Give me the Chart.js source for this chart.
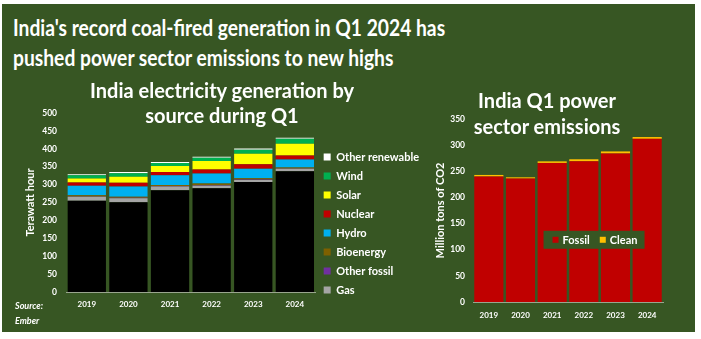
<!DOCTYPE html>
<html>
<head>
<meta charset="utf-8">
<script src="https://cdn.jsdelivr.net/npm/chart.js@4.4.1/dist/chart.umd.min.js"></script>
<style>
  html, body { margin: 0; padding: 0; background: #ffffff; }
  #page { position: relative; width: 701px; height: 339px; overflow: hidden; background: #ffffff; }
  #panel { position: absolute; left: 2px; top: 4px; width: 693px; height: 328px; background: #375623; }
  .txt { position: absolute; color: #ffffff; font-family: Lato, "Open Sans", sans-serif; font-weight: bold; white-space: nowrap; }
  #mainTitle { left: 13px; top: 13px; font-size: 22px; line-height: 30px; transform: scaleX(0.875); transform-origin: 0 0; }
  #genTitle { left: 52px; top: 78px; width: 340px; text-align: center; font-size: 20px; line-height: 25px; }
  #emTitle { left: 457px; top: 87px; width: 180px; text-align: center; font-size: 20px; line-height: 26px; }
  #source { left: 15px; top: 298px; font-size: 9px; line-height: 15px; font-style: italic; }
  #genWrap { position: absolute; left: 0; top: 80px; width: 440px; height: 245px; }
  #emWrap { position: absolute; left: 420px; top: 80px; width: 275px; height: 245px; }
</style>
</head>
<body>
<div id="page">
  <div id="panel"></div>
  <div id="genWrap"><canvas id="genChart"></canvas></div>
  <div id="emWrap"><canvas id="emChart"></canvas></div>
  <div class="txt" id="mainTitle">India's record coal-fired generation in Q1 2024 has<br>pushed power sector emissions to new highs</div>
  <div class="txt" id="genTitle">India electricity generation by<br>source during Q1</div>
  <div class="txt" id="emTitle">India Q1 power<br>sector emissions</div>
  <div class="txt" id="source">Source:<br>Ember</div>
</div>
<script>
// Q1 data
const years = ['2019', '2020', '2021', '2022', '2023', '2024'];

// generation, TWh
const coal = [255, 251, 284, 290, 307, 337];
const gas = [11, 11, 11, 7, 6, 7];
const otherFossil = [1, 1, 1, 1, 1, 1];
const bioenergy = [3, 3, 3, 5, 4, 3];
const hydro = [27, 29, 27, 28, 26, 22];
const nuclear = [9, 10, 9, 11, 13, 11];
const solar = [11, 17, 17, 24, 29, 33];
const wind = [9, 10, 8, 9, 11, 14];
const otherRenewable = [3, 3, 3, 3, 4, 3];

// emissions, million tons CO2
const fossilEmissions = [240, 236, 266, 269, 284, 312];
const cleanEmissions = [3, 2.5, 3, 4, 4, 3.5];

const genTicks = [0, 50, 100, 150, 200, 250, 300, 350, 400, 450, 500];
const emTicks = [0, 50, 100, 150, 200, 250, 300, 350];

const font = 'Lato, "Open Sans", sans-serif';
const bg = '#375623';
const axisGrey = '#9aa58f';

Chart.defaults.font.family = font;
Chart.defaults.color = '#ffffff';

function barSet(label, data, color) {
    return {
        label: label,
        data: data,
        backgroundColor: color,
        borderWidth: 0,
        barPercentage: 0.92,
        categoryPercentage: 1.0
    };
}

function fixedTicks(values) {
    return function(scale) {
        scale.ticks = values.map(v => ({ value: v }));
    };
}

// Electricity generation chart
const genCtx = document.getElementById('genChart').getContext('2d');
const genChart = new Chart(genCtx, {
    type: 'bar',
    data: {
        labels: years,
        datasets: [
            barSet('Coal', coal, '#000000'),
            barSet('Gas', gas, '#a5a5a5'),
            barSet('Other fossil', otherFossil, '#7030a0'),
            barSet('Bioenergy', bioenergy, '#7f6000'),
            barSet('Hydro', hydro, '#00b0f0'),
            barSet('Nuclear', nuclear, '#c00000'),
            barSet('Solar', solar, '#ffff00'),
            barSet('Wind', wind, '#00b050'),
            barSet('Other renewable', otherRenewable, '#ffffff')
        ]
    },
    options: {
        responsive: true,
        maintainAspectRatio: false,
        animation: false,
        layout: { padding: { left: 20, top: 33, right: 11, bottom: 0 } },
        plugins: {
            tooltip: { enabled: false },
            legend: {
                display: true,
                position: 'right',
                align: 'center',
                reverse: true,
                maxWidth: 140,
                // blank title only nudges the list down a little
                title: { display: true, text: ' ', font: { size: 1 }, padding: 4 },
                labels: {
                    filter: item => item.text !== 'Coal',
                    boxWidth: 7,
                    boxHeight: 7,
                    padding: 8,
                    color: '#ffffff',
                    font: { size: 11, weight: 'bold' }
                }
            }
        },
        scales: {
            x: {
                stacked: true,
                grid: { display: false, drawTicks: false },
                border: { display: true, color: axisGrey, width: 1 },
                ticks: { padding: 8, color: '#ffffff', font: { size: 8, weight: 'bold' } },
                afterFit: function(scale) { scale.height = 33; }
            },
            y: {
                stacked: true,
                min: 0,
                max: 500,
                grid: { display: false, drawTicks: false },
                border: { display: false },
                afterBuildTicks: fixedTicks(genTicks),
                ticks: { padding: 9, color: '#ffffff', font: { size: 8.5, weight: 'bold' } },
                title: {
                    display: true,
                    text: 'Terawatt hour',
                    color: '#ffffff',
                    font: { size: 11, weight: 'bold' }
                },
                afterFit: function(scale) { scale.width = 46; }
            }
        }
    }
});

// Plugin that draws the emissions legend inside the plot, on a green box
const boxLegend = {
    id: 'boxLegend',
    afterDatasetsDraw(chart, args, opts) {
        const a = chart.chartArea;
        const c = chart.ctx;
        const w = opts.width, h = opts.height;
        const x0 = a.left + opts.fx * a.width - w / 2;
        const y0 = a.top + opts.fy * a.height - h / 2;
        c.save();
        c.fillStyle = bg;
        c.fillRect(x0, y0, w, h);
        c.font = 'bold 11px ' + font;
        c.textBaseline = 'middle';
        let x = x0 + 9;
        chart.data.datasets.forEach(ds => {
            c.fillStyle = ds.backgroundColor;
            c.fillRect(x, y0 + h / 2 - 3, 6, 6);
            x += 10;
            c.fillStyle = '#ffffff';
            c.fillText(ds.label, x, y0 + h / 2 + 0.5);
            x += c.measureText(ds.label).width + 10;
        });
        c.restore();
    }
};

// Emissions chart
const emCtx = document.getElementById('emChart').getContext('2d');
const emChart = new Chart(emCtx, {
    type: 'bar',
    data: {
        labels: years,
        datasets: [
            barSet('Fossil', fossilEmissions, '#c00000'),
            barSet('Clean', cleanEmissions, '#ffc000')
        ]
    },
    options: {
        responsive: true,
        maintainAspectRatio: false,
        animation: false,
        layout: { padding: { left: 10, top: 39, right: 32, bottom: 0 } },
        plugins: {
            tooltip: { enabled: false },
            legend: { display: false },
            boxLegend: { fx: 0.637, fy: 0.66, width: 101, height: 18 }
        },
        scales: {
            x: {
                stacked: true,
                grid: { display: false, drawTicks: false },
                border: { display: true, color: axisGrey, width: 1 },
                ticks: { padding: 9, color: '#ffffff', font: { size: 8, weight: 'bold' } },
                afterFit: function(scale) { scale.height = 23; }
            },
            y: {
                stacked: true,
                min: 0,
                max: 350,
                grid: { display: false, drawTicks: false },
                border: { display: false },
                afterBuildTicks: fixedTicks(emTicks),
                ticks: { padding: 8, color: '#ffffff', font: { size: 8.5, weight: 'bold' } },
                title: {
                    display: true,
                    text: 'Million tons of CO2',
                    color: '#ffffff',
                    font: { size: 11, weight: 'bold' }
                },
                afterFit: function(scale) { scale.width = 43; }
            }
        }
    },
    plugins: [boxLegend]
});
</script>
</body>
</html>
